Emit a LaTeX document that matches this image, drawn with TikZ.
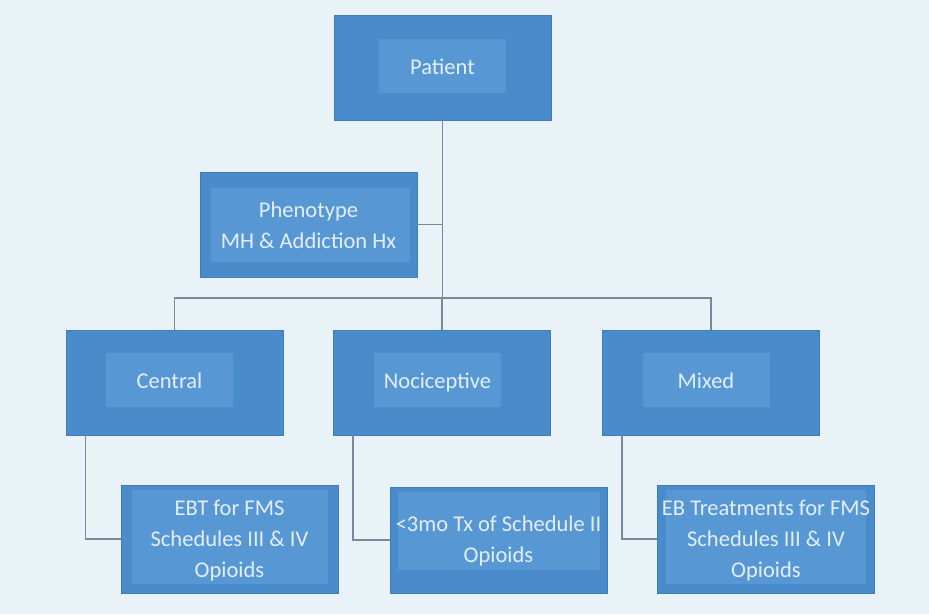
\documentclass[tikz,border=0pt]{standalone}
\usepackage{fontspec}
\setmainfont{Carlito}
\definecolor{bg}{HTML}{E9F2F7}
\definecolor{boxfill}{HTML}{4A8CCB}
\definecolor{boxinner}{HTML}{5798D4}
\definecolor{boxedge}{HTML}{3F7DB8}
\definecolor{linec}{HTML}{7589A0}
\definecolor{txt}{HTML}{E4EEF8}
\begin{document}
\begin{tikzpicture}[x=1pt,y=-1pt,
  box/.style={draw=boxedge,line width=0.8pt,fill=boxfill,minimum width=217pt,minimum height=105pt,inner sep=0pt},
  lbl/.style={text=txt,font=\fontsize{22.5}{31}\selectfont,align=center,inner sep=0pt},
  conn/.style={draw=linec,line width=1.6pt}]
\fill[bg] (0,0) rectangle (929,614);
\useasboundingbox (0,0) rectangle (929,614);
% boxes
\node[box] (patient) at (442.5,67.5) {};
\fill[boxinner] (379,39) rectangle (506,93);
\node[lbl] (tpatient) at (442.5,67) {Patient};

\node[box] (pheno) at (308.5,224.5) {};
\fill[boxinner] (211,188) rectangle (410,262);
\node[lbl] (tpheno) at (308.5,225) {Phenotype\\MH \& Addiction Hx};

\node[box] (central) at (174.5,382.5) {};
\fill[boxinner] (106,353) rectangle (233,407);
\node[lbl] (tcentral) at (169.5,381) {Central};

\node[box] (noci) at (442,382.5) {};
\fill[boxinner] (374,353) rectangle (501,407);
\node[lbl] (tnoci) at (437.5,383) {Nociceptive};

\node[box] (mixed) at (711,382.5) {};
\fill[boxinner] (643,353) rectangle (770,407);
\node[lbl] (tmixed) at (706,381) {Mixed};

\node[box,minimum height=108pt] (ebt) at (229.5,539) {};
\fill[boxinner] (132,490) rectangle (328,584);
\node[lbl] (tebt) at (229.5,541) {EBT for FMS\\Schedules III \& IV\\Opioids};

\node[box,minimum height=106pt] (sch2) at (498.5,540) {};
\fill[boxinner] (398,492) rectangle (600,570);
\node[lbl] (tsch2) at (498.5,541) {<3mo Tx of Schedule II\\Opioids};

\node[box,minimum height=108pt] (ebtm) at (766,539) {};
\fill[boxinner] (666,490) rectangle (866,584);
\node[lbl] (tebtm) at (766,541) {EB Treatments for FMS\\Schedules III \& IV\\Opioids};

% connectors
\coordinate (j) at (442.5,298);
\draw[conn] (patient.south) -- (j);
\draw[conn] (pheno.east) -- (pheno.east -| patient.south);
\draw[conn] (central.north) |- (j);
\draw[conn] (mixed.north) |- (j);
\draw[conn] (noci.north) -- (noci.north |- j);
\draw[conn] ([xshift=20pt]central.south west) |- (ebt.west);
\draw[conn] ([xshift=20pt]noci.south west) |- (sch2.west);
\draw[conn] ([xshift=20pt]mixed.south west) |- (ebtm.west);
\end{tikzpicture}
\end{document}
